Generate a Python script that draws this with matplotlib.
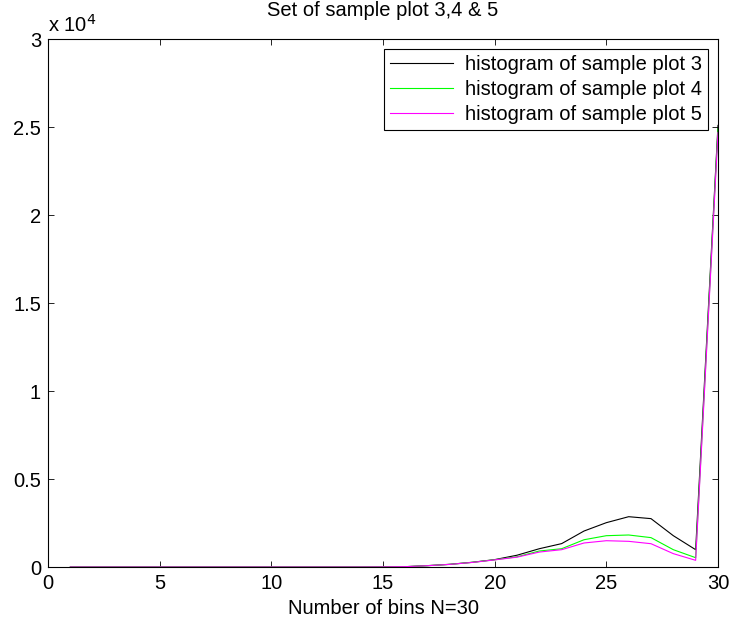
import matplotlib
matplotlib.use('Agg')
import matplotlib.pyplot as plt
from matplotlib.ticker import FuncFormatter

plt.rcParams['font.family'] = ['Liberation Sans', 'DejaVu Sans']

# bins 1..30
bins = list(range(1, 31))

# histogram counts
plot3 = [0, 0, 0, 0, 0, 0, 0, 0, 0, 0, 0, 0, 0, 0, 5, 20, 80, 155, 270, 420,
         670, 1040, 1330, 2045, 2520, 2860, 2750, 1780, 985, 25100]
plot4 = [0, 0, 0, 0, 0, 0, 0, 0, 0, 0, 0, 0, 0, 0, 5, 20, 75, 150, 265, 410,
         580, 910, 1040, 1550, 1780, 1820, 1670, 985, 530, 24900]
plot5 = [0, 0, 0, 0, 0, 0, 0, 0, 0, 0, 0, 0, 0, 0, 5, 20, 75, 150, 260, 405,
         560, 850, 985, 1365, 1495, 1460, 1325, 760, 380, 24700]

labels = ['histogram of sample plot 3', 'histogram of sample plot 4',
          'histogram of sample plot 5']

fs = 14.5

fig = plt.figure(figsize=(7.31, 6.22), dpi=100)
ax = fig.add_axes([0.0657, 0.0884, 0.9165, 0.8486])

ax.plot(bins, plot3, color='k', lw=0.8, label=labels[0])
ax.plot(bins, plot4, color=(0, 1, 0), lw=0.8, label=labels[1])
ax.plot(bins, plot5, color=(1, 0, 1), lw=0.8, label=labels[2])

ax.set_xlim(0, 30)
ax.set_ylim(0, 30000)
ax.set_xticks(range(0, 31, 5))
ax.set_yticks([0, 5000, 10000, 15000, 20000, 25000, 30000])
ax.yaxis.set_major_formatter(FuncFormatter(lambda v, p: '%g' % (v / 1e4)))
ax.tick_params(direction='in', top=True, right=True, length=4, width=0.6,
               labelsize=fs, pad=5)
for s in ax.spines.values():
    s.set_linewidth(0.8)

ax.text(0.0, 1.006, r'x 10$^4$', transform=ax.transAxes, fontsize=fs,
        ha='left', va='bottom')

ax.set_title('Set of sample plot 3,4 & 5', fontsize=fs, pad=17)
ax.set_xlabel('Number of bins N=30', fontsize=fs, labelpad=4)

leg = ax.legend(loc='upper right', fontsize=fs, handlelength=3.1,
                fancybox=False, framealpha=1, borderaxespad=0.5,
                labelspacing=0.3, borderpad=0.3, handletextpad=0.6)
leg.get_frame().set_edgecolor('k')
leg.get_frame().set_linewidth(0.8)

fig.savefig('out.png', dpi=100)
